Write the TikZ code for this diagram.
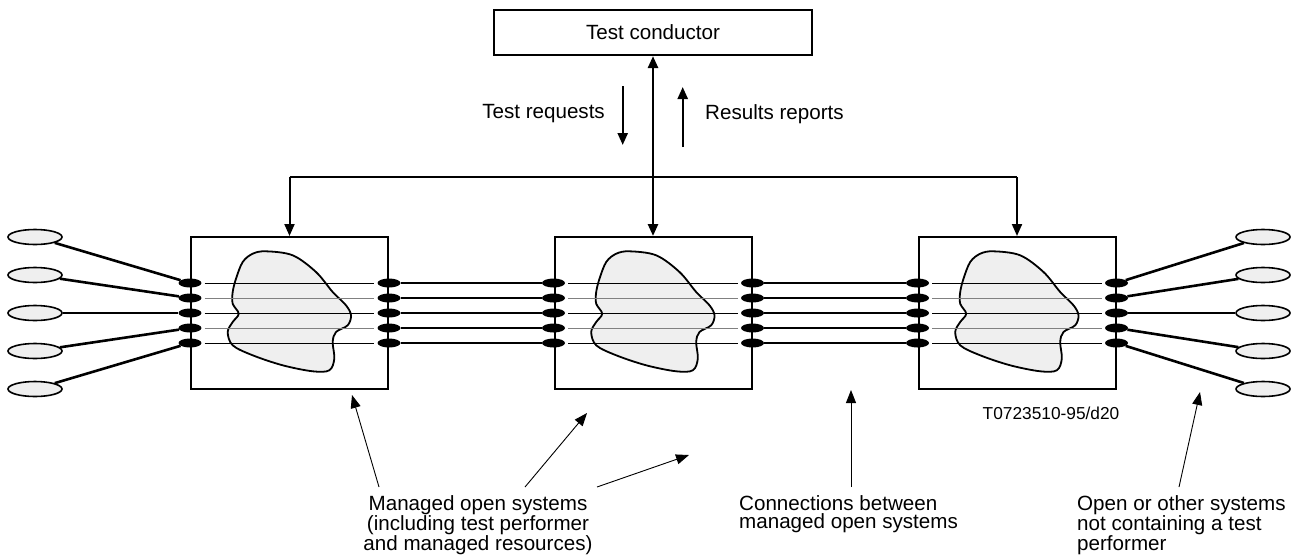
\documentclass[tikz,border=0pt]{standalone}
\usepackage{fontspec}
\setmainfont{Liberation Sans}
\usetikzlibrary{arrows.meta,shapes.geometric,calc}
\definecolor{blobgray}{HTML}{EFEFEF}
\tikzset{
  sysbox/.style={draw, line width=2pt, fill=white, minimum width=197pt, minimum height=152pt, inner sep=0pt},
  condbox/.style={draw, line width=2.2pt, minimum width=318pt, minimum height=45pt, inner sep=0pt, font=\fontsize{20.6}{18}\selectfont},
  port/.style={ellipse, fill=black, minimum width=23pt, minimum height=9pt, inner sep=0pt},
  extsys/.style={ellipse, draw, line width=1.6pt, fill=blobgray, minimum width=54pt, minimum height=15pt, inner sep=0pt},
  conn/.style={line width=2.6pt},
  innerline/.style={line width=0.9pt},
  blobline/.style={draw, line width=1.8pt, fill=blobgray},
  feed/.style={line width=2pt},
  notearrow/.style={line width=0.9pt, -{Triangle[length=13pt,width=10pt]}},
  lbl/.style={inner sep=0pt, font=\fontsize{20.6}{18}\selectfont},
}
\begin{document}
\begin{tikzpicture}[x=1pt,y=-1pt]
\useasboundingbox (0,0) rectangle (1292,555);

% test conductor
\node[condbox] (T) at (653,32.5) {Test conductor};

% managed systems
\node[sysbox] (A) at (289.5,313) {};
\node[sysbox] (B) at (653,313) {};
\node[sysbox] (C) at (1017,313) {};

% blobs
\foreach \bx in {A,B,C} {
  \begin{scope}[shift={(\bx.north west)}]
    \path[blobline] plot[smooth cycle, tension=0.55] coordinates {
      (76,15.3) (102.7,19.3) (126,36) (142.7,56) (156,69.3) (161,79.3)
      (157.7,89.3) (146,96) (142.7,106) (144.3,122.7) (139.3,134.3)
      (122.7,135.3) (92.7,129.3) (62.7,119.3) (42.7,109.3) (37.7,96)
      (42.7,86) (48.7,77.7) (42.7,67.7) (42.7,56) (46,42.7) (52.7,26)
      (62.7,17.7)};
  \end{scope}
}

% ports
\foreach \bx in {A,B,C} {
  \foreach \i/\dy in {1/-30,2/-15,3/0,4/15,5/30} {
    \node[port] (\bx-l\i) at ($(\bx.west)+(0,\dy)$) {};
    \node[port] (\bx-r\i) at ($(\bx.east)+(0,\dy)$) {};
  }
}

% inner lines
\foreach \bx in {A,B,C} {
  \foreach \i/\c in {1/black,2/gray,3/black,4/gray,5/black} {
    \draw[innerline, draw=\c] ([xshift=3pt]\bx-l\i.east) -- ([xshift=-3pt]\bx-r\i.west);
  }
}

% external systems
\foreach \i/\y in {1/237,2/275,3/313,4/351,5/389} {
  \node[extsys] (L\i) at (35,\y) {};
  \node[extsys] (R\i) at (1263,\y) {};
}

% connections
\foreach \i in {1,...,5} {
  \draw[conn] (L\i) -- (A-l\i);
  \draw[conn] (A-r\i) -- (B-l\i);
  \draw[conn] (B-r\i) -- (C-l\i);
  \draw[conn] (C-r\i) -- (R\i);
}

% feed lines from test conductor
\coordinate (fl) at (289.5,177);
\coordinate (fr) at (1017,177);
\draw[feed] (fl) -- (fr);
\draw[feed, -{Triangle[length=12pt,width=10pt]}] (fl) -- (A.north);
\draw[feed, -{Triangle[length=12pt,width=10pt]}] (fr) -- (C.north);
\draw[line width=2.6pt, {Triangle[length=12pt,width=10pt]}-{Triangle[length=12pt,width=10pt]}] (T.south) -- (B.north);

% request/report arrows
\coordinate (rq1) at (622.7,86);
\coordinate (rq2) at (622.7,145);
\coordinate (rp1) at (682.7,147);
\coordinate (rp2) at (682.7,87);
\draw[line width=2.4pt, -{Triangle[length=12pt,width=10pt]}] (rq1) -- (rq2);
\draw[line width=2.4pt, -{Triangle[length=12pt,width=10pt]}] (rp1) -- (rp2);
\node[lbl, anchor=east] (treq) at (605,114) {Test requests};
\node[lbl, anchor=west] (rrep) at (705,114) {Results reports};

% annotation labels
\node[lbl, align=center, anchor=north] (mos) at (478,495) {Managed open systems\\(including test performer\\and managed resources)};
\node[lbl, align=left, anchor=north west] (cbm) at (739,495) {Connections between\\managed open systems};
\node[lbl, align=left, anchor=north west] (oos) at (1077,495) {Open or other systems\\not containing a test\\performer};
\node[inner sep=0pt, font=\fontsize{17.3}{18}\selectfont] (ref) at (1051,413) {T0723510-95/d20};

% annotation arrows
\coordinate (m1s) at (379,487); \coordinate (m1e) at (352,395);
\coordinate (m2s) at (525,487); \coordinate (m2e) at (587,413);
\coordinate (m3s) at (597,487); \coordinate (m3e) at (689,455);
\coordinate (c1s) at (851,487); \coordinate (c1e) at (851,390);
\coordinate (o1s) at (1179,487); \coordinate (o1e) at (1200,392);
\draw[notearrow] (m1s) -- (m1e);
\draw[notearrow] (m2s) -- (m2e);
\draw[notearrow] (m3s) -- (m3e);
\draw[notearrow] (c1s) -- (c1e);
\draw[notearrow] (o1s) -- (o1e);
\end{tikzpicture}
\end{document}
